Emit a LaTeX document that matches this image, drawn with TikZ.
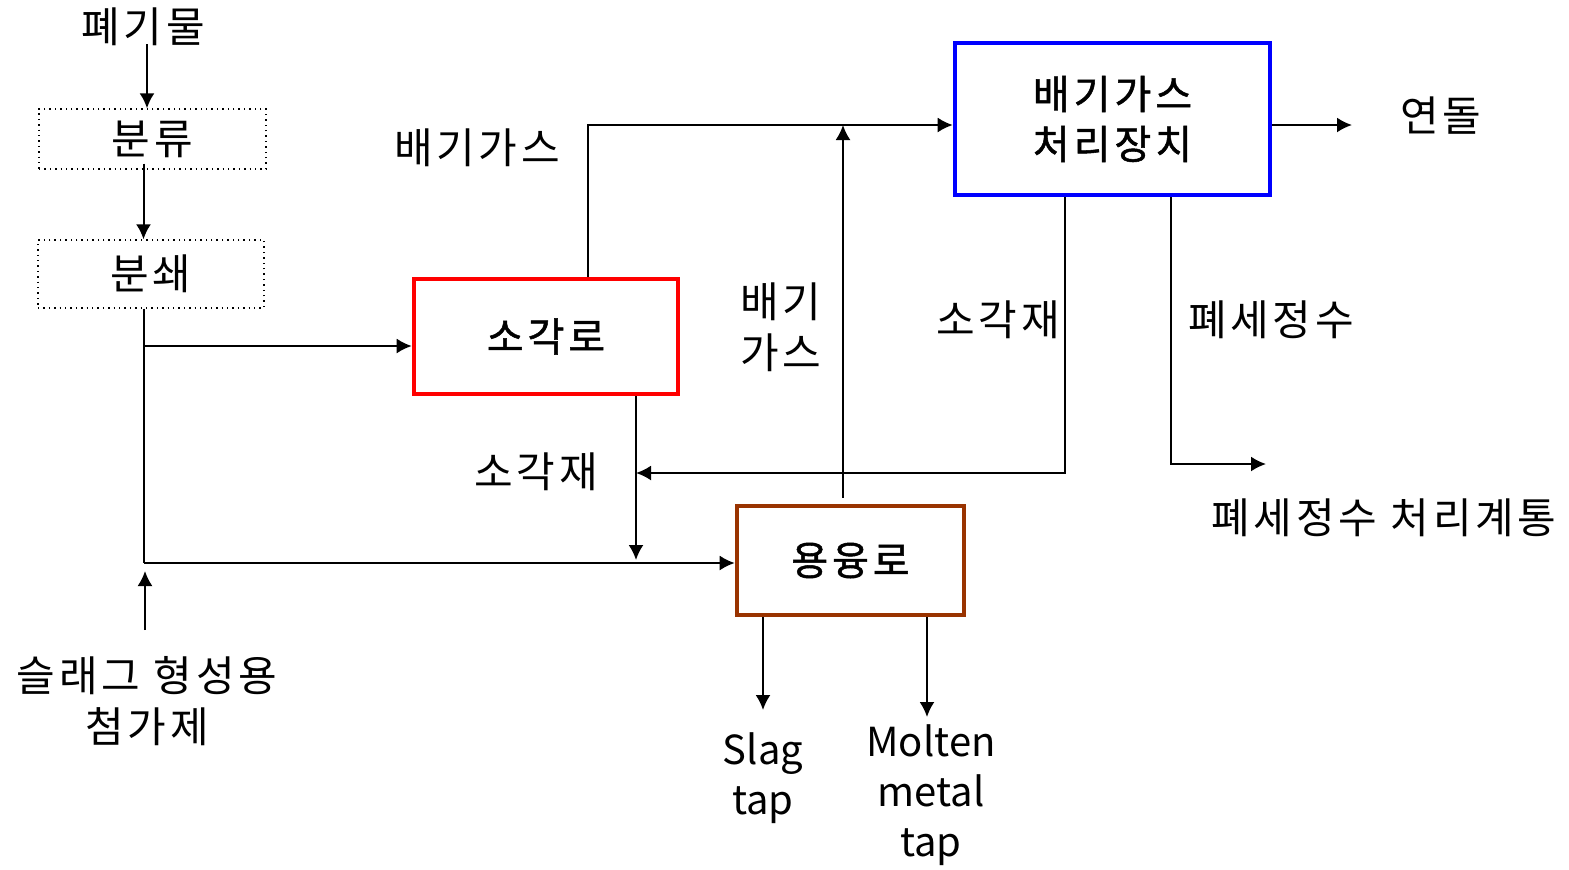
\documentclass[tikz,border=0pt]{standalone}
\usepackage{fontspec}
\setmainfont{Noto Sans CJK KR}
\newfontfamily\kr{Noto Sans CJK KR}[LetterSpace=9]
\newfontfamily\krbold{Noto Sans CJK KR}[FakeBold=1.3,LetterSpace=10]
\usetikzlibrary{arrows.meta}
\definecolor{boxred}{HTML}{FF0000}
\definecolor{boxblue}{HTML}{0000FF}
\definecolor{boxbrown}{HTML}{993300}
\tikzset{
  arr/.style={line width=1pt,-{Latex[length=7.5pt,width=7.5pt]}},
  ln/.style={line width=1pt},
  lbl/.style={font=\fontsize{21}{25.5}\selectfont\kr, align=center, inner sep=0pt},
  elbl/.style={font=\fontsize{20}{25}\selectfont, align=center, inner sep=0pt},
  dotbox/.style={draw, dotted, line width=0.7pt, inner sep=0pt, font=\fontsize{21}{25}\selectfont\kr},
  mainbox/.style={draw, line width=2.3pt, inner sep=0pt, align=center, font=\fontsize{20}{25}\selectfont\krbold},
}
\begin{document}
\begin{tikzpicture}[x=0.5pt,y=-0.5pt]
\useasboundingbox (0,0) rectangle (1569,869);
% nodes
\node[lbl] (waste) at (143,27) {폐기물};
\node[dotbox, minimum width=113.5pt, minimum height=30pt] (sort) at (152.5,139) {분류};
\node[dotbox, minimum width=113pt, minimum height=34pt] (crush) at (151,274) {분쇄};
\node[mainbox, draw=boxred, minimum width=132pt, minimum height=57.5pt] (inc) at (546,336.5) {소각로};
\node[mainbox, draw=boxbrown, minimum width=113.5pt, minimum height=54.5pt] (melt) at (850.5,560.5) {용융로};
\node[mainbox, draw=boxblue, minimum width=157.5pt, minimum height=76pt] (gas) at (1112.5,119) {배기가스\\처리장치};
\node[lbl] (add) at (147,701) {슬래그 형성용\\첨가제};
% labels
\node[lbl] (lgas1) at (477,148) {배기가스};
\node[lbl] (lash1) at (536,472) {소각재};
\node[lbl] (lgas2) at (781,327) {배기\\가스};
\node[lbl] (lash2) at (998,320) {소각재};
\node[lbl] (lwash) at (1271,320) {폐세정수};
\node[lbl] (lwashsys) at (1384,518) {폐세정수 처리계통};
\node[lbl] (stack) at (1441,116) {연돌};
\node[elbl] (slag) at (763,778) {Slag\\tap};
\node[elbl] (metal) at (931,795) {Molten\\metal\\tap};
% junction coordinates
\coordinate (jA) at (144,346);
\coordinate (jB) at (144,563);
\coordinate (g1) at (588,125);
\coordinate (ashX) at (636,560);
\coordinate (mg) at (843,125);
\coordinate (st) at (1352,125);
\coordinate (a1) at (1065,473);
\coordinate (w1) at (1171,464);
\coordinate (w2) at (1266,464);
\coordinate (s1) at (763,710);
\coordinate (m1) at (927,717);
\coordinate (addtop) at (145,630);
% connectors
\draw[arr] (waste.south) ++(4,-2) coordinate (t0) -- (t0 |- sort.north);
\draw[arr] (sort.south) ++(-9,-6) coordinate (t) -- (t |- crush.north);
\draw[ln] (crush.south -| jA) -- (jB);
\draw[arr] (jA) -- (jA -| inc.west);
\draw[arr] (jB) -- (jB -| melt.west);
\draw[arr] (addtop) -- ([yshift=-4pt]jB -| addtop);
\draw[arr] (inc.north -| g1) -- (g1) -- (g1 -| gas.west);
\draw[arr] (inc.south -| ashX) -- (ashX);
\draw[arr] (melt.north -| mg) ++(0,-6) coordinate (mt) -- (mg);
\draw[arr] (gas.east |- st) -- (st);
\draw[arr] (gas.south -| a1) -- (a1) -- (a1 -| ashX);
\draw[arr] (gas.south -| w1) -- (w1) -- (w2);
\draw[arr] (melt.south -| s1) -- (s1);
\draw[arr] (melt.south -| m1) -- (m1);
\end{tikzpicture}
\end{document}
